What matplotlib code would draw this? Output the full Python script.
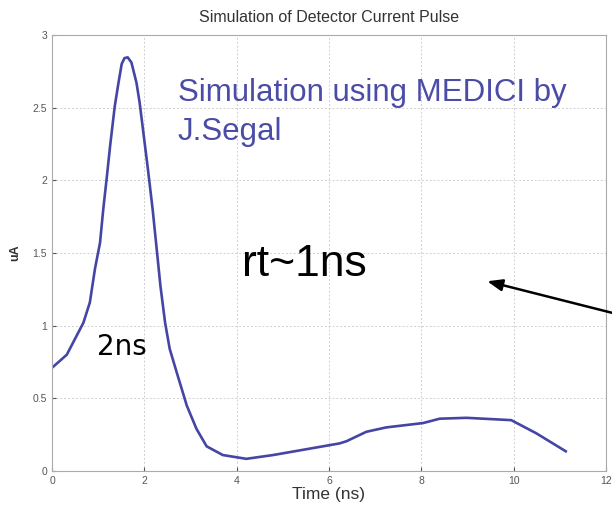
import matplotlib
matplotlib.use("Agg")
import matplotlib.pyplot as plt

# Simulated detector current pulse
time_ns = [0, 0.32, 0.68, 0.82, 0.93, 1.04, 1.11, 1.18, 1.26, 1.36, 1.44, 1.51, 1.57,
           1.64, 1.72, 1.83, 1.90, 1.99, 2.08, 2.18, 2.27, 2.35, 2.45, 2.55, 2.70,
           2.92, 3.13, 3.35, 3.70, 4.21, 4.79, 5.51, 6.23, 6.38, 6.81, 7.24, 8.04,
           8.40, 8.98, 9.95, 10.49, 11.13]
current_ua = [0.71, 0.80, 1.02, 1.16, 1.39, 1.57, 1.80, 2.00, 2.24, 2.51, 2.67, 2.80, 2.84,
              2.845, 2.81, 2.67, 2.53, 2.30, 2.07, 1.80, 1.52, 1.27, 1.02, 0.84, 0.68,
              0.45, 0.29, 0.17, 0.11, 0.084, 0.11, 0.15, 0.19, 0.205, 0.27, 0.30, 0.33,
              0.36, 0.366, 0.35, 0.26, 0.136]

xticks = [0, 2, 4, 6, 8, 10, 12]
yticks = [0, 0.5, 1, 1.5, 2, 2.5, 3]
ytick_labels = ["0", "0.5", "1", "1.5", "2", "2.5", "3"]

plt.rcParams["font.family"] = ["Liberation Sans", "DejaVu Sans"]

fig = plt.figure(figsize=(6.12, 5.12), dpi=100)
ax = fig.add_axes([0.085, 0.080, 0.905, 0.852])

ax.plot(time_ns, current_ua, color="#4545a5", lw=1.9, solid_joinstyle="round")

ax.set_xlim(0, 12)
ax.set_ylim(0, 3)
ax.set_xticks(xticks)
ax.set_yticks(yticks)
ax.set_xticklabels([str(v) for v in xticks])
ax.set_yticklabels(ytick_labels)
ax.tick_params(labelsize=7.5, colors="#555555", length=3, direction="in")
for s in ax.spines.values():
    s.set_color("#aaaaaa")
ax.grid(True, ls=(0, (2, 2)), color="#cfcfcf", lw=0.7)

ax.set_title("Simulation of Detector Current Pulse", fontsize=11.5, color="#333333", pad=9)
ax.set_xlabel("Time (ns)", fontsize=12.5, color="#333333", labelpad=1)
ax.set_ylabel("uA", fontsize=9, color="#333333", fontweight="bold", labelpad=8)

# overlaid slide annotations
fig.text(178 / 612, 1 - 101.5 / 512, "Simulation using MEDICI by",
         fontsize=22.5, color="#4b4ba8", va="baseline")
fig.text(178 / 612, 1 - 140 / 512, "J.Segal",
         fontsize=22.5, color="#4b4ba8", va="baseline")
fig.text(242 / 612, 1 - 276.5 / 512, "rt~1ns", fontsize=32, color="black",
         va="baseline")
fig.text(97 / 612, 1 - 355 / 512, "2ns", fontsize=20, color="black",
         family="DejaVu Sans", va="baseline")

ax.annotate("", xy=(9.37, 1.31), xycoords="data",
            xytext=(1.02, 0.383), textcoords="figure fraction",
            arrowprops=dict(arrowstyle="-|>,head_length=0.9,head_width=0.35",
                            color="black", lw=1.8),
            annotation_clip=False)

fig.savefig("out.png", dpi=100)
